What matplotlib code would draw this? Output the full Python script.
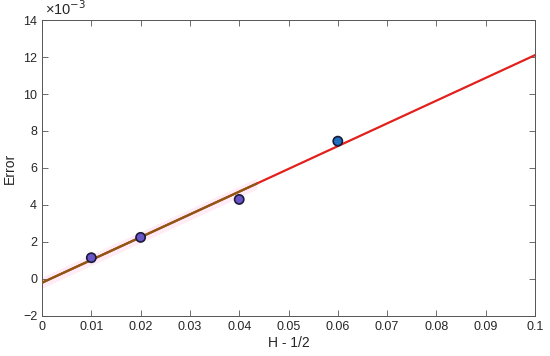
import numpy as np
import matplotlib.pyplot as plt

plt.rcParams['font.family'] = ['Liberation Sans', 'DejaVu Sans']

# data
h = [0.01, 0.02, 0.04, 0.06]
err = [1.15e-3, 2.25e-3, 4.3e-3, 7.45e-3]
pt_colors = ['#6a55c8', '#6a55c8', '#6a55c8', '#1f6fc0']

fit_x = [0.0, 0.1]
fit_y = [-0.2e-3, 12.1e-3]
short_x = [0.0, 0.0435]
short_y = [-0.2e-3, 5.15e-3]

fig = plt.figure(figsize=(5.5, 3.56), dpi=100)
ax = fig.add_axes([0.0764, 0.1124, 0.8963, 0.8314])

ax.fill_between(short_x, [v - 0.3e-3 for v in short_y], [v + 0.3e-3 for v in short_y],
                color='#ffd6ec', alpha=0.45, lw=0, zorder=1)
ax.plot(fit_x, fit_y, color='#e3211c', lw=1.6, zorder=2)
ax.plot(short_x, short_y, color='#8a5a12', lw=1.6, zorder=3)
ax.scatter(h, err, s=44, c=pt_colors, edgecolors='#1a1a3a', linewidths=1.2, zorder=4)

ax.set_xlim(0, 0.1)
ax.set_ylim(-2e-3, 14e-3)
ax.set_xticks(np.arange(0, 0.1001, 0.01))
ax.set_xticklabels(['0', '0.01', '0.02', '0.03', '0.04', '0.05', '0.06', '0.07', '0.08', '0.09', '0.1'])
ax.set_yticks(np.arange(-2e-3, 14.01e-3, 2e-3))
ax.set_yticklabels(['\u22122', '0', '2', '4', '6', '8', '10', '12', '14'])
ax.text(0.006, 1.008, '\u00d710$^{-3}$', transform=ax.transAxes, fontsize=10.5,
        color='#262626', ha='left', va='bottom')

ax.tick_params(direction='in', top=True, right=True, length=4, width=0.6,
               colors='#555555', labelcolor='#262626', labelsize=9)
for s in ax.spines.values():
    s.set_color('#555555')
    s.set_linewidth(0.7)

ax.set_xlabel('H - 1/2', fontsize=10, color='#262626', labelpad=2)
ax.set_ylabel('Error', fontsize=10, color='#262626', labelpad=4)

fig.savefig('out.png', dpi=100)
